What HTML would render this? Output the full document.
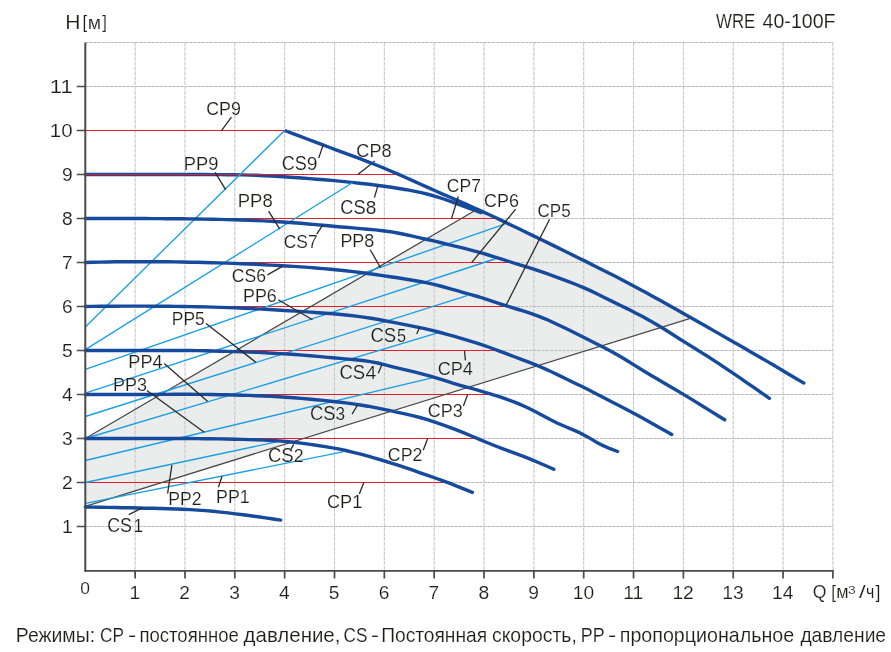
<!DOCTYPE html>
<html lang="ru"><head><meta charset="utf-8"><title>WRE 40-100F</title>
<style>html,body{margin:0;padding:0;background:#fff}body{width:891px;height:652px;overflow:hidden;font-family:"Liberation Sans",sans-serif}svg{display:block;will-change:transform}text{font-family:"Liberation Sans",sans-serif;fill:#1d1d1b;stroke:#fff;stroke-width:.15px;paint-order:fill stroke}</style></head><body>
<svg width="891" height="652" viewBox="0 0 891 652">
<rect width="891" height="652" fill="#fff"/>
<polygon fill="#ebecec" points="85.30,438.50 475.90,210.05 484.02,212.16 533.86,236.06 583.70,260.43 633.54,285.82 683.38,313.41 689.61,318.51 85.30,506.26"/>
<path d="M135.14,42.50 V570.50 M184.98,42.50 V570.50 M234.82,42.50 V570.50 M284.66,42.50 V570.50 M334.50,42.50 V570.50 M384.34,42.50 V570.50 M434.18,42.50 V570.50 M484.02,42.50 V570.50 M533.86,42.50 V570.50 M583.70,42.50 V570.50 M633.54,42.50 V570.50 M683.38,42.50 V570.50 M733.22,42.50 V570.50 M783.06,42.50 V570.50 M832.90,42.50 V570.50" fill="none" stroke="#e6e6e6" stroke-width="0.75"/>
<path d="M135.14,42.50 V570.50 M184.98,42.50 V570.50 M234.82,42.50 V570.50 M284.66,42.50 V570.50 M334.50,42.50 V570.50 M384.34,42.50 V570.50 M434.18,42.50 V570.50 M484.02,42.50 V570.50 M533.86,42.50 V570.50 M583.70,42.50 V570.50 M633.54,42.50 V570.50 M683.38,42.50 V570.50 M733.22,42.50 V570.50 M783.06,42.50 V570.50 M832.90,42.50 V570.50" fill="none" stroke="#b8b8b8" stroke-width="0.75" stroke-dasharray="3.4 1.45"/>
<path d="M85.30,526.50 H832.90 M85.30,482.50 H832.90 M85.30,438.50 H832.90 M85.30,394.50 H832.90 M85.30,350.50 H832.90 M85.30,306.50 H832.90 M85.30,262.50 H832.90 M85.30,218.50 H832.90 M85.30,174.50 H832.90 M85.30,130.50 H832.90 M85.30,86.50 H832.90 M85.30,42.50 H832.90" fill="none" stroke="#e0e0e0" stroke-width="0.75"/>
<path d="M85.30,526.50 H832.90 M85.30,482.50 H832.90 M85.30,438.50 H832.90 M85.30,394.50 H832.90 M85.30,350.50 H832.90 M85.30,306.50 H832.90 M85.30,262.50 H832.90 M85.30,218.50 H832.90 M85.30,174.50 H832.90 M85.30,130.50 H832.90 M85.30,86.50 H832.90 M85.30,42.50 H832.90" fill="none" stroke="#acacac" stroke-width="0.75" stroke-dasharray="2.9 1.25"/>
<path d="M85.3,174.5L92.8,174.5 100.2,174.5 107.7,174.5 115.2,174.5 122.6,174.5 130.1,174.5 137.6,174.5 145.0,174.5 152.5,174.5 160.0,174.5 167.4,174.5 174.9,174.5 182.4,174.5 189.8,174.5 197.3,174.5 204.8,174.5 212.2,174.6 219.7,174.6 227.2,174.7 234.6,174.8 242.1,174.9 249.6,175.1 257.0,175.3 264.5,175.7 272.0,176.0 279.4,176.5 286.9,177.0 294.4,177.5 301.8,178.0 309.3,178.6 316.8,179.2 324.2,179.8 331.7,180.4 339.2,181.1 346.6,181.9 354.1,182.6 361.6,183.5 369.0,184.3 376.5,185.3 384.0,186.3 391.4,187.3 398.9,188.5 406.4,189.7 413.8,191.1 421.3,192.7 428.8,194.5 436.2,196.6 443.7,199.0 451.2,201.6 458.6,204.3 466.1,207.1 473.6,209.8 481.0,212.6" fill="none" stroke="#164a9c" stroke-width="3.4" stroke-linecap="round" stroke-linejoin="round"/>
<line x1="85.30" y1="482.50" x2="452.12" y2="482.50" stroke="#e31e24" stroke-width="1.2"/>
<line x1="85.30" y1="438.50" x2="475.55" y2="438.50" stroke="#e31e24" stroke-width="1.2"/>
<line x1="85.30" y1="394.50" x2="488.01" y2="394.50" stroke="#e31e24" stroke-width="1.2"/>
<line x1="85.30" y1="350.50" x2="496.48" y2="350.50" stroke="#e31e24" stroke-width="1.2"/>
<line x1="85.30" y1="306.50" x2="506.45" y2="306.50" stroke="#e31e24" stroke-width="1.2"/>
<line x1="85.30" y1="262.50" x2="509.94" y2="262.50" stroke="#e31e24" stroke-width="1.2"/>
<line x1="85.30" y1="218.50" x2="495.98" y2="218.50" stroke="#e31e24" stroke-width="1.2"/>
<line x1="85.30" y1="174.50" x2="396.80" y2="174.50" stroke="#e31e24" stroke-width="1.2"/>
<line x1="85.30" y1="130.50" x2="284.66" y2="130.50" stroke="#e31e24" stroke-width="1.2"/>
<line x1="85.30" y1="438.50" x2="475.90" y2="210.05" stroke="#4a4a4a" stroke-width="1.3"/>
<line x1="85.30" y1="506.26" x2="689.61" y2="318.51" stroke="#4a4a4a" stroke-width="1.3"/>
<line x1="85.30" y1="327.00" x2="284.66" y2="130.50" stroke="#1a9fe3" stroke-width="1.35"/>
<line x1="85.30" y1="349.62" x2="352.69" y2="182.51" stroke="#1a9fe3" stroke-width="1.35"/>
<line x1="85.30" y1="369.42" x2="504.80" y2="224.13" stroke="#1a9fe3" stroke-width="1.35"/>
<line x1="85.30" y1="393.18" x2="495.48" y2="258.76" stroke="#1a9fe3" stroke-width="1.35"/>
<line x1="85.30" y1="416.50" x2="467.07" y2="295.63" stroke="#1a9fe3" stroke-width="1.35"/>
<line x1="85.30" y1="438.50" x2="438.47" y2="332.64" stroke="#1a9fe3" stroke-width="1.35"/>
<line x1="85.30" y1="460.50" x2="432.04" y2="377.82" stroke="#1a9fe3" stroke-width="1.35"/>
<line x1="85.30" y1="482.50" x2="277.68" y2="441.58" stroke="#1a9fe3" stroke-width="1.35"/>
<line x1="85.30" y1="503.31" x2="342.87" y2="451.92" stroke="#1a9fe3" stroke-width="1.35"/>
<line x1="374.9" y1="161.0" x2="357.9" y2="174.5" stroke="#2b2a29" stroke-width="1.3"/>
<path d="M85.3,507.0L92.8,507.1 100.3,507.3 107.8,507.4 115.4,507.5 122.9,507.7 130.4,507.8 137.9,508.0 145.4,508.2 152.9,508.3 160.4,508.5 168.0,508.7 175.5,509.0 183.0,509.3 190.5,509.6 198.0,510.1 205.5,510.6 213.0,511.3 220.6,512.1 228.1,512.9 235.6,513.9 243.1,514.8 250.6,515.8 258.1,516.8 265.6,517.9 273.2,519.0 280.7,520.1" fill="none" stroke="#164a9c" stroke-width="3.4" stroke-linecap="round" stroke-linejoin="round"/>
<path d="M85.3,438.5L92.7,438.5 100.2,438.5 107.6,438.5 115.1,438.5 122.5,438.5 130.0,438.5 137.4,438.5 144.8,438.5 152.3,438.5 159.7,438.5 167.2,438.5 174.6,438.5 182.1,438.5 189.5,438.5 196.9,438.6 204.4,438.7 211.8,438.8 219.3,438.9 226.7,439.0 234.1,439.2 241.6,439.4 249.0,439.6 256.5,439.8 263.9,440.1 271.4,440.5 278.8,440.9 286.2,441.5 293.7,442.2 301.1,443.1 308.6,444.1 316.0,445.2 323.5,446.4 330.9,447.6 338.3,448.9 345.8,450.5 353.2,452.3 360.7,454.2 368.1,456.2 375.6,458.3 383.0,460.5 390.4,462.8 397.9,465.2 405.3,467.6 412.8,470.2 420.2,472.8 427.7,475.4 435.1,478.0 442.5,480.7 450.0,483.4 457.4,486.3 464.9,489.3 472.3,492.4" fill="none" stroke="#164a9c" stroke-width="3.4" stroke-linecap="round" stroke-linejoin="round"/>
<path d="M85.3,394.5L92.7,394.5 100.2,394.5 107.6,394.5 115.0,394.5 122.5,394.5 129.9,394.5 137.4,394.5 144.8,394.5 152.2,394.4 159.7,394.4 167.1,394.4 174.5,394.3 182.0,394.3 189.4,394.3 196.8,394.4 204.3,394.4 211.7,394.5 219.2,394.7 226.6,394.8 234.0,395.0 241.5,395.2 248.9,395.4 256.3,395.7 263.8,396.0 271.2,396.4 278.6,396.8 286.1,397.3 293.5,397.8 301.0,398.4 308.4,399.0 315.8,399.7 323.3,400.4 330.7,401.2 338.1,402.0 345.6,402.9 353.0,403.9 360.4,405.0 367.9,406.2 375.3,407.6 382.8,409.1 390.2,410.7 397.6,412.3 405.1,413.9 412.5,415.6 419.9,417.5 427.4,419.7 434.8,422.1 442.2,424.6 449.7,427.3 457.1,430.2 464.6,433.2 472.0,436.3 479.4,439.4 486.9,442.5 494.3,445.5 501.7,448.4 509.2,451.2 516.6,453.9 524.1,456.7 531.5,459.7 538.9,462.8 546.4,466.0 553.8,469.3" fill="none" stroke="#164a9c" stroke-width="3.4" stroke-linecap="round" stroke-linejoin="round"/>
<path d="M85.3,350.5L92.8,350.5 100.3,350.5 107.8,350.5 115.3,350.5 122.8,350.5 130.3,350.5 137.8,350.5 145.3,350.5 152.8,350.5 160.3,350.5 167.8,350.5 175.3,350.5 182.8,350.5 190.3,350.5 197.8,350.6 205.3,350.8 212.8,351.0 220.2,351.2 227.7,351.4 235.2,351.6 242.7,351.9 250.2,352.1 257.7,352.4 265.2,352.8 272.7,353.2 280.2,353.6 287.7,354.0 295.2,354.5 302.7,355.1 310.2,355.7 317.7,356.4 325.2,357.1 332.7,357.8 340.2,358.4 347.7,359.1 355.2,359.7 362.7,360.5 370.2,361.6 377.7,363.0 385.2,364.9 392.7,366.8 400.2,368.6 407.7,370.4 415.2,372.2 422.7,374.1 430.2,376.1 437.7,378.3 445.2,380.7 452.7,383.1 460.2,385.3 467.7,387.4 475.1,389.4 482.6,391.6 490.1,393.8 497.6,396.2 505.1,398.7 512.6,401.4 520.1,404.4 527.6,407.8 535.1,411.6 542.6,415.6 550.1,419.6 557.6,423.3 565.1,426.5 572.6,429.6 580.1,432.9 587.6,436.9 595.1,441.4 602.6,445.4 610.1,448.7 617.6,451.5" fill="none" stroke="#164a9c" stroke-width="3.4" stroke-linecap="round" stroke-linejoin="round"/>
<path d="M85.3,306.5L92.8,306.4 100.3,306.3 107.9,306.2 115.4,306.2 122.9,306.1 130.4,306.1 137.9,306.1 145.4,306.1 153.0,306.2 160.5,306.2 168.0,306.3 175.5,306.4 183.0,306.5 190.5,306.6 198.1,306.8 205.6,306.9 213.1,307.1 220.6,307.4 228.1,307.6 235.7,307.9 243.2,308.2 250.7,308.5 258.2,308.9 265.7,309.3 273.2,309.8 280.8,310.2 288.3,310.7 295.8,311.1 303.3,311.6 310.8,312.1 318.3,312.7 325.9,313.2 333.4,313.8 340.9,314.5 348.4,315.3 355.9,316.1 363.4,317.1 371.0,318.2 378.5,319.5 386.0,321.0 393.5,322.4 401.0,323.9 408.6,325.3 416.1,326.8 423.6,328.4 431.1,330.1 438.6,332.0 446.1,334.1 453.7,336.2 461.2,338.4 468.7,340.6 476.2,342.9 483.7,345.4 491.2,348.0 498.8,350.8 506.3,353.7 513.8,356.5 521.3,359.4 528.8,362.2 536.4,365.2 543.9,368.4 551.4,371.8 558.9,375.4 566.4,379.0 573.9,382.7 581.5,386.3 589.0,390.1 596.5,393.9 604.0,397.8 611.5,401.7 619.0,405.6 626.6,409.5 634.1,413.5 641.6,417.5 649.1,421.7 656.6,425.9 664.2,430.2 671.7,434.5" fill="none" stroke="#164a9c" stroke-width="3.4" stroke-linecap="round" stroke-linejoin="round"/>
<path d="M85.3,262.5L92.7,262.3 100.2,262.1 107.6,262.0 115.0,261.8 122.5,261.7 129.9,261.7 137.3,261.7 144.8,261.7 152.2,261.7 159.7,261.8 167.1,261.8 174.5,261.9 182.0,262.0 189.4,262.2 196.8,262.3 204.3,262.5 211.7,262.7 219.1,262.9 226.6,263.1 234.0,263.4 241.4,263.7 248.9,264.0 256.3,264.3 263.8,264.7 271.2,265.1 278.6,265.5 286.1,266.0 293.5,266.4 300.9,266.9 308.4,267.4 315.8,268.0 323.2,268.6 330.7,269.3 338.1,270.0 345.5,270.8 353.0,271.6 360.4,272.5 367.8,273.5 375.3,274.5 382.7,275.6 390.2,276.7 397.6,277.8 405.0,279.0 412.5,280.2 419.9,281.5 427.3,282.9 434.8,284.6 442.2,286.5 449.6,288.6 457.1,290.7 464.5,292.8 471.9,294.9 479.4,297.0 486.8,299.4 494.2,301.9 501.7,304.3 509.1,306.7 516.6,309.0 524.0,311.2 531.4,313.6 538.9,316.3 546.3,319.3 553.7,322.7 561.2,326.2 568.6,329.8 576.0,333.5 583.5,337.2 590.9,340.9 598.3,344.7 605.8,348.5 613.2,352.5 620.7,356.8 628.1,361.3 635.5,365.9 643.0,370.5 650.4,375.0 657.8,379.3 665.3,383.7 672.7,388.0 680.1,392.4 687.6,396.9 695.0,401.4 702.4,406.0 709.9,410.6 717.3,415.2 724.7,419.8" fill="none" stroke="#164a9c" stroke-width="3.4" stroke-linecap="round" stroke-linejoin="round"/>
<path d="M85.3,218.5L92.7,218.5 100.2,218.5 107.6,218.5 115.0,218.5 122.5,218.5 129.9,218.5 137.3,218.5 144.8,218.5 152.2,218.6 159.7,218.6 167.1,218.7 174.5,218.8 182.0,218.8 189.4,218.9 196.8,219.0 204.3,219.1 211.7,219.3 219.1,219.4 226.6,219.6 234.0,219.8 241.4,220.0 248.9,220.3 256.3,220.6 263.7,220.9 271.2,221.3 278.6,221.7 286.1,222.2 293.5,222.7 300.9,223.3 308.4,224.0 315.8,224.6 323.2,225.3 330.7,226.0 338.1,226.7 345.5,227.3 353.0,227.9 360.4,228.6 367.8,229.2 375.3,229.9 382.7,230.7 390.2,231.7 397.6,233.0 405.0,234.5 412.5,236.1 419.9,237.8 427.3,239.5 434.8,241.2 442.2,243.0 449.6,244.8 457.1,246.6 464.5,248.4 471.9,250.3 479.4,252.3 486.8,254.5 494.2,256.8 501.7,259.2 509.1,261.5 516.6,263.8 524.0,266.1 531.4,268.4 538.9,270.9 546.3,273.4 553.7,276.1 561.2,278.8 568.6,281.6 576.0,284.5 583.5,287.6 590.9,290.9 598.3,294.5 605.8,298.3 613.2,301.9 620.6,305.5 628.1,309.1 635.5,312.9 643.0,316.8 650.4,320.9 657.8,325.3 665.3,329.8 672.7,334.5 680.1,339.2 687.6,343.9 695.0,348.5 702.4,353.1 709.9,357.8 717.3,362.7 724.7,367.7 732.2,372.7 739.6,377.7 747.0,382.8 754.5,387.9 761.9,393.1 769.4,398.3" fill="none" stroke="#164a9c" stroke-width="3.4" stroke-linecap="round" stroke-linejoin="round"/>
<path d="M284.7,130.5L292.2,133.3 299.7,136.2 307.2,139.0 314.8,141.8 322.3,144.7 329.8,147.5 337.3,150.3 344.9,153.1 352.4,155.9 359.9,158.7 367.4,161.6 375.0,164.5 382.5,167.5 390.0,170.7 397.5,173.9 405.1,177.2 412.6,180.6 420.1,184.0 427.6,187.4 435.2,190.7 442.7,194.1 450.2,197.3 457.7,200.6 465.3,203.9 472.8,207.2 480.3,210.6 487.8,214.0 495.4,217.5 502.9,221.1 510.4,224.7 517.9,228.3 525.5,232.0 533.0,235.6 540.5,239.3 548.0,242.9 555.6,246.6 563.1,250.3 570.6,254.0 578.1,257.7 585.7,261.4 593.2,265.2 600.7,269.0 608.2,272.8 615.8,276.6 623.3,280.5 630.8,284.5 638.3,288.5 645.9,292.5 653.4,296.7 660.9,300.8 668.4,305.0 676.0,309.3 683.5,313.5 691.0,317.7 698.5,322.0 706.1,326.3 713.6,330.6 721.1,334.9 728.6,339.2 736.2,343.5 743.7,347.8 751.2,352.2 758.7,356.5 766.3,360.9 773.8,365.3 781.3,369.7 788.8,374.2 796.4,378.7 803.9,383.1" fill="none" stroke="#164a9c" stroke-width="3.4" stroke-linecap="butt" stroke-linejoin="round"/>
<circle cx="803.9" cy="383.1" r="1.70" fill="#164a9c"/>
<path d="M85.30,42.50 V571.70" fill="none" stroke="#4a4a4a" stroke-width="2"/>
<path d="M84.30,570.90 H833.70" fill="none" stroke="#4a4a4a" stroke-width="1.6"/>
<path d="M135.14,570.90 v7.5 M184.98,570.90 v7.5 M234.82,570.90 v7.5 M284.66,570.90 v7.5 M334.50,570.90 v7.5 M384.34,570.90 v7.5 M434.18,570.90 v7.5 M484.02,570.90 v7.5 M533.86,570.90 v7.5 M583.70,570.90 v7.5 M633.54,570.90 v7.5 M683.38,570.90 v7.5 M733.22,570.90 v7.5 M783.06,570.90 v7.5 M832.90,570.90 v7.5 M85.30,526.50 h-8.5 M85.30,482.50 h-8.5 M85.30,438.50 h-8.5 M85.30,394.50 h-8.5 M85.30,350.50 h-8.5 M85.30,306.50 h-8.5 M85.30,262.50 h-8.5 M85.30,218.50 h-8.5 M85.30,174.50 h-8.5 M85.30,130.50 h-8.5 M85.30,86.50 h-8.5" fill="none" stroke="#4a4a4a" stroke-width="1.7"/>
<text x="72.6" y="533.40" font-size="19.2" text-anchor="end">1</text>
<text x="72.6" y="489.40" font-size="19.2" text-anchor="end">2</text>
<text x="72.6" y="445.40" font-size="19.2" text-anchor="end">3</text>
<text x="72.6" y="401.40" font-size="19.2" text-anchor="end">4</text>
<text x="72.6" y="357.40" font-size="19.2" text-anchor="end">5</text>
<text x="72.6" y="313.40" font-size="19.2" text-anchor="end">6</text>
<text x="72.6" y="269.40" font-size="19.2" text-anchor="end">7</text>
<text x="72.6" y="225.40" font-size="19.2" text-anchor="end">8</text>
<text x="72.6" y="181.40" font-size="19.2" text-anchor="end">9</text>
<text x="72.6" y="137.40" font-size="19.2" text-anchor="end" textLength="22.8" lengthAdjust="spacingAndGlyphs">10</text>
<text x="72.6" y="93.40" font-size="19.2" text-anchor="end" textLength="22.8" lengthAdjust="spacingAndGlyphs">11</text>
<text x="85" y="594.4" font-size="17.4" text-anchor="middle">0</text>
<text x="134.84" y="598.8" font-size="19.2" text-anchor="middle">1</text>
<text x="184.68" y="598.8" font-size="19.2" text-anchor="middle">2</text>
<text x="234.52" y="598.8" font-size="19.2" text-anchor="middle">3</text>
<text x="284.36" y="598.8" font-size="19.2" text-anchor="middle">4</text>
<text x="334.20" y="598.8" font-size="19.2" text-anchor="middle">5</text>
<text x="384.04" y="598.8" font-size="19.2" text-anchor="middle">6</text>
<text x="433.88" y="598.8" font-size="19.2" text-anchor="middle">7</text>
<text x="483.72" y="598.8" font-size="19.2" text-anchor="middle">8</text>
<text x="533.56" y="598.8" font-size="19.2" text-anchor="middle">9</text>
<text x="583.40" y="598.8" font-size="19.2" text-anchor="middle">10</text>
<text x="633.24" y="598.8" font-size="19.2" text-anchor="middle">11</text>
<text x="683.08" y="598.8" font-size="19.2" text-anchor="middle">12</text>
<text x="732.92" y="598.8" font-size="19.2" text-anchor="middle">13</text>
<text x="782.76" y="598.8" font-size="19.2" text-anchor="middle">14</text>
<line x1="231.4" y1="117.1" x2="221.5" y2="130.6" stroke="#2b2a29" stroke-width="1.3"/>
<line x1="215.1" y1="172.3" x2="225.6" y2="189.7" stroke="#2b2a29" stroke-width="1.3"/>
<line x1="323.2" y1="144.9" x2="318.7" y2="158.0" stroke="#2b2a29" stroke-width="1.3"/>
<line x1="378.0" y1="185.4" x2="374.4" y2="197.6" stroke="#2b2a29" stroke-width="1.3"/>
<line x1="268.6" y1="211.1" x2="279.8" y2="229.2" stroke="#2b2a29" stroke-width="1.3"/>
<line x1="322.6" y1="225.4" x2="316.7" y2="234.1" stroke="#2b2a29" stroke-width="1.3"/>
<line x1="370.2" y1="249.7" x2="380.5" y2="267.7" stroke="#2b2a29" stroke-width="1.3"/>
<line x1="458.3" y1="196.5" x2="451.4" y2="218.9" stroke="#2b2a29" stroke-width="1.3"/>
<line x1="515.7" y1="209.1" x2="471.6" y2="262.6" stroke="#2b2a29" stroke-width="1.3"/>
<line x1="549.6" y1="219.2" x2="506.0" y2="305.3" stroke="#2b2a29" stroke-width="1.3"/>
<line x1="267.4" y1="274.9" x2="282.4" y2="266.4" stroke="#2b2a29" stroke-width="1.3"/>
<line x1="278.2" y1="299.8" x2="312.5" y2="319.7" stroke="#2b2a29" stroke-width="1.3"/>
<line x1="206.0" y1="323.5" x2="256.0" y2="362.4" stroke="#2b2a29" stroke-width="1.3"/>
<line x1="419.8" y1="327.0" x2="416.7" y2="333.9" stroke="#2b2a29" stroke-width="1.3"/>
<line x1="164.2" y1="363.5" x2="207.7" y2="401.6" stroke="#2b2a29" stroke-width="1.3"/>
<line x1="381.9" y1="364.4" x2="378.3" y2="373.2" stroke="#2b2a29" stroke-width="1.3"/>
<line x1="464.5" y1="351.0" x2="465.4" y2="360.4" stroke="#2b2a29" stroke-width="1.3"/>
<line x1="146.9" y1="390.4" x2="204.2" y2="432.3" stroke="#2b2a29" stroke-width="1.3"/>
<line x1="357.5" y1="405.0" x2="352.1" y2="414.2" stroke="#2b2a29" stroke-width="1.3"/>
<line x1="467.7" y1="394.5" x2="463.4" y2="406.0" stroke="#2b2a29" stroke-width="1.3"/>
<line x1="293.7" y1="444.4" x2="291.2" y2="448.9" stroke="#2b2a29" stroke-width="1.3"/>
<line x1="427.7" y1="438.5" x2="423.2" y2="450.2" stroke="#2b2a29" stroke-width="1.3"/>
<line x1="171.9" y1="465.2" x2="167.6" y2="493.5" stroke="#2b2a29" stroke-width="1.3"/>
<line x1="222.0" y1="476.3" x2="218.4" y2="487.3" stroke="#2b2a29" stroke-width="1.3"/>
<line x1="363.8" y1="482.5" x2="359.3" y2="493.9" stroke="#2b2a29" stroke-width="1.3"/>
<line x1="142.1" y1="507.9" x2="128.8" y2="514.7" stroke="#2b2a29" stroke-width="1.3"/>
<text x="206.15" y="114.9" font-size="18.8" textLength="34.67" lengthAdjust="spacingAndGlyphs">CP9</text>
<text x="183.72" y="169.9" font-size="18.6" textLength="34.62" lengthAdjust="spacingAndGlyphs">PP9</text>
<text x="281.73" y="169.8" font-size="20.8" textLength="25.04" lengthAdjust="spacingAndGlyphs">CS</text>
<text x="306.76" y="169.9" font-size="18.5" textLength="10.75" lengthAdjust="spacingAndGlyphs">9</text>
<text x="356.33" y="157.4" font-size="18.6" textLength="35.21" lengthAdjust="spacingAndGlyphs">CP8</text>
<text x="340.33" y="213.7" font-size="21.0" textLength="25.30" lengthAdjust="spacingAndGlyphs">CS</text>
<text x="365.76" y="213.7" font-size="18.3" textLength="10.62" lengthAdjust="spacingAndGlyphs">8</text>
<text x="237.81" y="206.9" font-size="18.6" textLength="34.84" lengthAdjust="spacingAndGlyphs">PP8</text>
<text x="283.76" y="247.6" font-size="18.6" textLength="33.83" lengthAdjust="spacingAndGlyphs">CS7</text>
<text x="340.42" y="246.8" font-size="18.3" textLength="33.83" lengthAdjust="spacingAndGlyphs">PP8</text>
<text x="446.87" y="191.8" font-size="18.8" textLength="34.04" lengthAdjust="spacingAndGlyphs">CP7</text>
<text x="484.04" y="206.7" font-size="18.6" textLength="34.90" lengthAdjust="spacingAndGlyphs">CP6</text>
<text x="537.48" y="216.8" font-size="18.6" textLength="33.17" lengthAdjust="spacingAndGlyphs">CP5</text>
<text x="231.77" y="281.8" font-size="18.8" textLength="34.15" lengthAdjust="spacingAndGlyphs">CS6</text>
<text x="243.02" y="301.8" font-size="18.2" textLength="33.77" lengthAdjust="spacingAndGlyphs">PP6</text>
<text x="171.86" y="324.9" font-size="18.6" textLength="32.88" lengthAdjust="spacingAndGlyphs">PP5</text>
<text x="370.42" y="342.0" font-size="21.0" textLength="25.73" lengthAdjust="spacingAndGlyphs">CS</text>
<text x="396.92" y="342.0" font-size="18.5" textLength="9.04" lengthAdjust="spacingAndGlyphs">5</text>
<text x="128.31" y="367.8" font-size="18.4" textLength="34.34" lengthAdjust="spacingAndGlyphs">PP4</text>
<text x="339.42" y="379.0" font-size="21.0" textLength="25.73" lengthAdjust="spacingAndGlyphs">CS</text>
<text x="365.50" y="379.0" font-size="18.3" textLength="10.88" lengthAdjust="spacingAndGlyphs">4</text>
<text x="437.63" y="374.8" font-size="18.6" textLength="35.24" lengthAdjust="spacingAndGlyphs">CP4</text>
<text x="112.92" y="390.8" font-size="18.4" textLength="34.03" lengthAdjust="spacingAndGlyphs">PP3</text>
<text x="309.92" y="419.8" font-size="20.9" textLength="25.59" lengthAdjust="spacingAndGlyphs">CS</text>
<text x="335.46" y="419.8" font-size="18.3" textLength="9.61" lengthAdjust="spacingAndGlyphs">3</text>
<text x="427.83" y="416.8" font-size="18.5" textLength="35.05" lengthAdjust="spacingAndGlyphs">CP3</text>
<text x="267.92" y="462.4" font-size="21.0" textLength="25.73" lengthAdjust="spacingAndGlyphs">CS</text>
<text x="293.82" y="462.4" font-size="18.2" textLength="9.87" lengthAdjust="spacingAndGlyphs">2</text>
<text x="387.84" y="460.8" font-size="18.6" textLength="34.58" lengthAdjust="spacingAndGlyphs">CP2</text>
<text x="168.24" y="504.5" font-size="18.3" textLength="33.31" lengthAdjust="spacingAndGlyphs">PP2</text>
<text x="216.04" y="502.8" font-size="18.5" textLength="33.59" lengthAdjust="spacingAndGlyphs">PP1</text>
<text x="326.92" y="507.8" font-size="18.6" textLength="35.32" lengthAdjust="spacingAndGlyphs">CP1</text>
<text x="107.15" y="531.9" font-size="21.0" textLength="24.76" lengthAdjust="spacingAndGlyphs">CS</text>
<text x="133.55" y="531.9" font-size="18.2" textLength="9.62" lengthAdjust="spacingAndGlyphs">1</text>
<text x="15.84" y="641.9" font-size="20.9" textLength="79.21" lengthAdjust="spacingAndGlyphs">Режимы:</text>
<text x="100.08" y="641.9" font-size="20.9" textLength="23.87" lengthAdjust="spacingAndGlyphs">CP</text>
<text x="128.12" y="641.9" font-size="20.9" textLength="8.22" lengthAdjust="spacingAndGlyphs">-</text>
<text x="139.51" y="641.9" font-size="20.9" textLength="99.23" lengthAdjust="spacingAndGlyphs">постоянное</text>
<text x="243.60" y="641.9" font-size="20.9" textLength="96.84" lengthAdjust="spacingAndGlyphs">давление,</text>
<text x="343.48" y="641.9" font-size="20.9" textLength="23.87" lengthAdjust="spacingAndGlyphs">CS</text>
<text x="370.96" y="641.9" font-size="20.9" textLength="7.94" lengthAdjust="spacingAndGlyphs">-</text>
<text x="381.16" y="641.9" font-size="20.9" textLength="105.99" lengthAdjust="spacingAndGlyphs">Постоянная</text>
<text x="491.97" y="641.9" font-size="20.9" textLength="84.82" lengthAdjust="spacingAndGlyphs">скорость,</text>
<text x="580.79" y="641.9" font-size="20.9" textLength="23.86" lengthAdjust="spacingAndGlyphs">PP</text>
<text x="607.92" y="641.9" font-size="20.9" textLength="8.22" lengthAdjust="spacingAndGlyphs">-</text>
<text x="619.76" y="641.9" font-size="20.9" textLength="174.48" lengthAdjust="spacingAndGlyphs">пропорциональное</text>
<text x="800.40" y="641.9" font-size="20.9" textLength="85.68" lengthAdjust="spacingAndGlyphs">давление</text>
<text x="65.31" y="29.1" font-size="20.2" textLength="15.26" lengthAdjust="spacingAndGlyphs">H</text>
<text x="82.50" y="28.4" font-size="18.6" textLength="4.65" lengthAdjust="spacingAndGlyphs">[</text>
<text x="87.68" y="29.4" font-size="19.0" textLength="13.30" lengthAdjust="spacingAndGlyphs">м</text>
<text x="102.30" y="28.4" font-size="18.6" textLength="4.65" lengthAdjust="spacingAndGlyphs">]</text>
<text x="716.10" y="28.1" font-size="21.0" textLength="39.20" lengthAdjust="spacingAndGlyphs">WRE</text>
<text x="762.60" y="28.1" font-size="21.0" textLength="72.90" lengthAdjust="spacingAndGlyphs">40-100F</text>
<text x="812.86" y="597.7" font-size="18.8" textLength="13.71" lengthAdjust="spacingAndGlyphs">Q</text>
<text x="831.30" y="597.7" font-size="18.8" textLength="4.70" lengthAdjust="spacingAndGlyphs">[</text>
<text x="836.35" y="597.7" font-size="18.8" textLength="12.33" lengthAdjust="spacingAndGlyphs">м</text>
<text x="848.02" y="593.9" font-size="10.8" textLength="7.70" lengthAdjust="spacingAndGlyphs">3</text>
<text x="859.00" y="597.9" font-size="18.8" textLength="6.68" lengthAdjust="spacingAndGlyphs">/</text>
<text x="866.05" y="597.7" font-size="18.8" textLength="8.33" lengthAdjust="spacingAndGlyphs">ч</text>
<text x="875.40" y="597.7" font-size="18.8" textLength="4.96" lengthAdjust="spacingAndGlyphs">]</text>
</svg></body></html>
